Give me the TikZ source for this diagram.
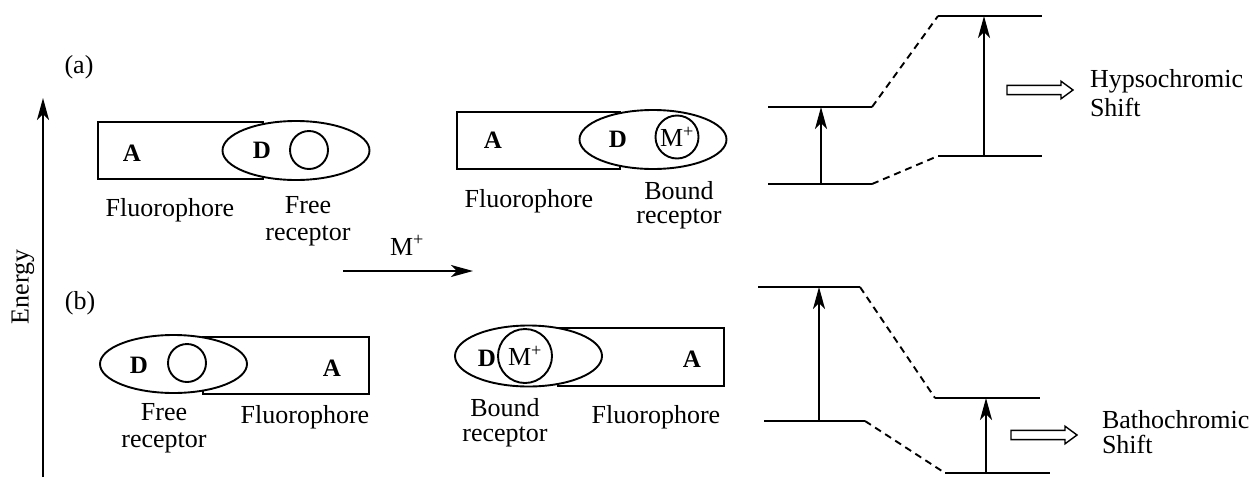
\documentclass[tikz,border=0pt]{standalone}
\usepackage{fontspec}
\setmainfont{Liberation Serif}
\usetikzlibrary{shapes.geometric,arrows.meta}
\begin{document}
\begin{tikzpicture}[x=1pt,y=-1pt,
  every node/.style={inner sep=0pt,outer sep=0pt,font=\fontsize{26}{27}\selectfont},
  ln/.style={line width=1.9pt},
  fluor/.style={draw,ln,rectangle,minimum height=57pt},
  recep/.style={draw,ln,ellipse,fill=white,minimum width=147pt},
  ring/.style={draw,ln,circle},
  lbl/.style={align=center},
  bold/.style={font=\fontsize{25}{26}\selectfont\bfseries},
  level/.style={ln},
  dashlink/.style={ln,dash pattern=on 7pt off 5pt},
  excite/.style={ln,-{Stealth[length=22pt,width=12pt,inset=6pt]}},
  hollowarrow/.pic={\draw[line width=1.4pt] (0,-4.6)--(54,-4.6)--(54,-8.8)--(66,0)--(54,8.8)--(54,4.6)--(0,4.6)--cycle;}
]
\useasboundingbox (0,0) rectangle (1252,477);

% Energy axis
\coordinate (eb) at (43,477);
\coordinate (et) at (43,98);
\draw[excite] (eb) -- (et);
\node[rotate=90] (energy) at (23,287) {Energy};

% panel labels
\node (la) at (79,67) {(a)};
\node (lb) at (80,303) {(b)};

% ---- (a) left: free ----
\node[fluor,minimum width=165pt] (fa1) at (180.5,150.5) {};
\node[recep,minimum height=59pt] (ra1) at (296,150.5) {};
\node[ring,minimum size=38pt] (ca1) at (309,150) {};
\node[bold] (Aa1) at (132,153) {A};
\node[bold] (Da1) at (262,150) {D};
\node (tfa1) at (170,210) {Fluorophore};
\node[lbl] (tra1) at (308,221) {Free\\receptor};

% ---- (a) middle: bound ----
\node[fluor,minimum width=163pt] (fa2) at (538.5,140.5) {};
\node[recep,minimum height=59pt] (ra2) at (653,139.5) {};
\node[ring,minimum size=43pt] (ca2) at (677,137) {M\textsuperscript{+}};
\node[bold] (Aa2) at (493,140) {A};
\node[bold] (Da2) at (618,139) {D};
\node (tfa2) at (529,201) {Fluorophore};
\node[lbl,font=\fontsize{26}{24}\selectfont] (tra2) at (679,205) {Bound\\receptor};

% M+ arrow
\coordinate (ms) at (343,271);
\coordinate (me) at (473,271);
\draw[excite] (ms) -- (me);
\node[anchor=base west] (mlab) at (390,255) {M\textsuperscript{+}};

% ---- (b) left: free ----
\node[fluor,minimum width=166pt] (fb1) at (286,365.5) {};
\node[recep,minimum height=58pt] (rb1) at (173.5,364) {};
\node[ring,minimum size=38pt] (cb1) at (187,363) {};
\node[bold] (Db1) at (139,365) {D};
\node[bold] (Ab1) at (332,368) {A};
\node (tfb1) at (305,417) {Fluorophore};
\node[lbl] (trb1) at (164,428) {Free\\receptor};

% ---- (b) middle: bound ----
\node[fluor,minimum width=166pt,minimum height=58pt] (fb2) at (641,357) {};
\node[recep,minimum height=61pt] (rb2) at (528.5,356) {};
\node[ring,minimum size=54pt] (cb2) at (525,356) {M\textsuperscript{+}};
\node[bold] (Db2) at (487,358) {D};
\node[bold] (Ab2) at (692,359) {A};
\node (tfb2) at (656,417) {Fluorophore};
\node[lbl,font=\fontsize{26}{25}\selectfont] (trb2) at (505,423) {Bound\\receptor};

% ---- energy levels (a) ----
\coordinate (a1l) at (768,184); \coordinate (a1r) at (872,184);
\coordinate (a2l) at (768,107); \coordinate (a2r) at (872,107);
\coordinate (a3l) at (938,156); \coordinate (a3r) at (1042,156);
\coordinate (a4l) at (938,16);  \coordinate (a4r) at (1042,16);
\draw[level] (a1l) -- (a1r);
\draw[level] (a2l) -- (a2r);
\draw[level] (a3l) -- (a3r);
\draw[level] (a4l) -- (a4r);
\draw[dashlink] (a2r) -- (a4l);
\draw[dashlink] (a1r) -- (a3l);
\coordinate (ea1b) at (821,184); \coordinate (ea1t) at (821,107);
\coordinate (ea2b) at (984,156); \coordinate (ea2t) at (984,16);
\draw[excite] (ea1b) -- (ea1t);
\draw[excite] (ea2b) -- (ea2t);
\pic at (1007,90) {hollowarrow};
\node[anchor=west,align=left,font=\fontsize{26}{29}\selectfont] (hyp) at (1090,93.5) {Hypsochromic\\Shift};

% ---- energy levels (b) ----
\coordinate (b1l) at (758,287); \coordinate (b1r) at (860,287);
\coordinate (b2l) at (764,421); \coordinate (b2r) at (865,421);
\coordinate (b3l) at (935,398); \coordinate (b3r) at (1040,398);
\coordinate (b4l) at (945,473); \coordinate (b4r) at (1050,473);
\draw[level] (b1l) -- (b1r);
\draw[level] (b2l) -- (b2r);
\draw[level] (b3l) -- (b3r);
\draw[level] (b4l) -- (b4r);
\draw[dashlink] (b1r) -- (b3l);
\draw[dashlink] (b2r) -- (b4l);
\coordinate (eb1b) at (819,421); \coordinate (eb1t) at (819,287);
\coordinate (eb2b) at (986,473); \coordinate (eb2t) at (986,398);
\draw[excite] (eb1b) -- (eb1t);
\draw[excite] (eb2b) -- (eb2t);
\pic at (1011,435) {hollowarrow};
\node[anchor=west,align=left,font=\fontsize{26}{25}\selectfont] (bath) at (1102,432.5) {Bathochromic\\Shift};

\end{tikzpicture}
\end{document}
